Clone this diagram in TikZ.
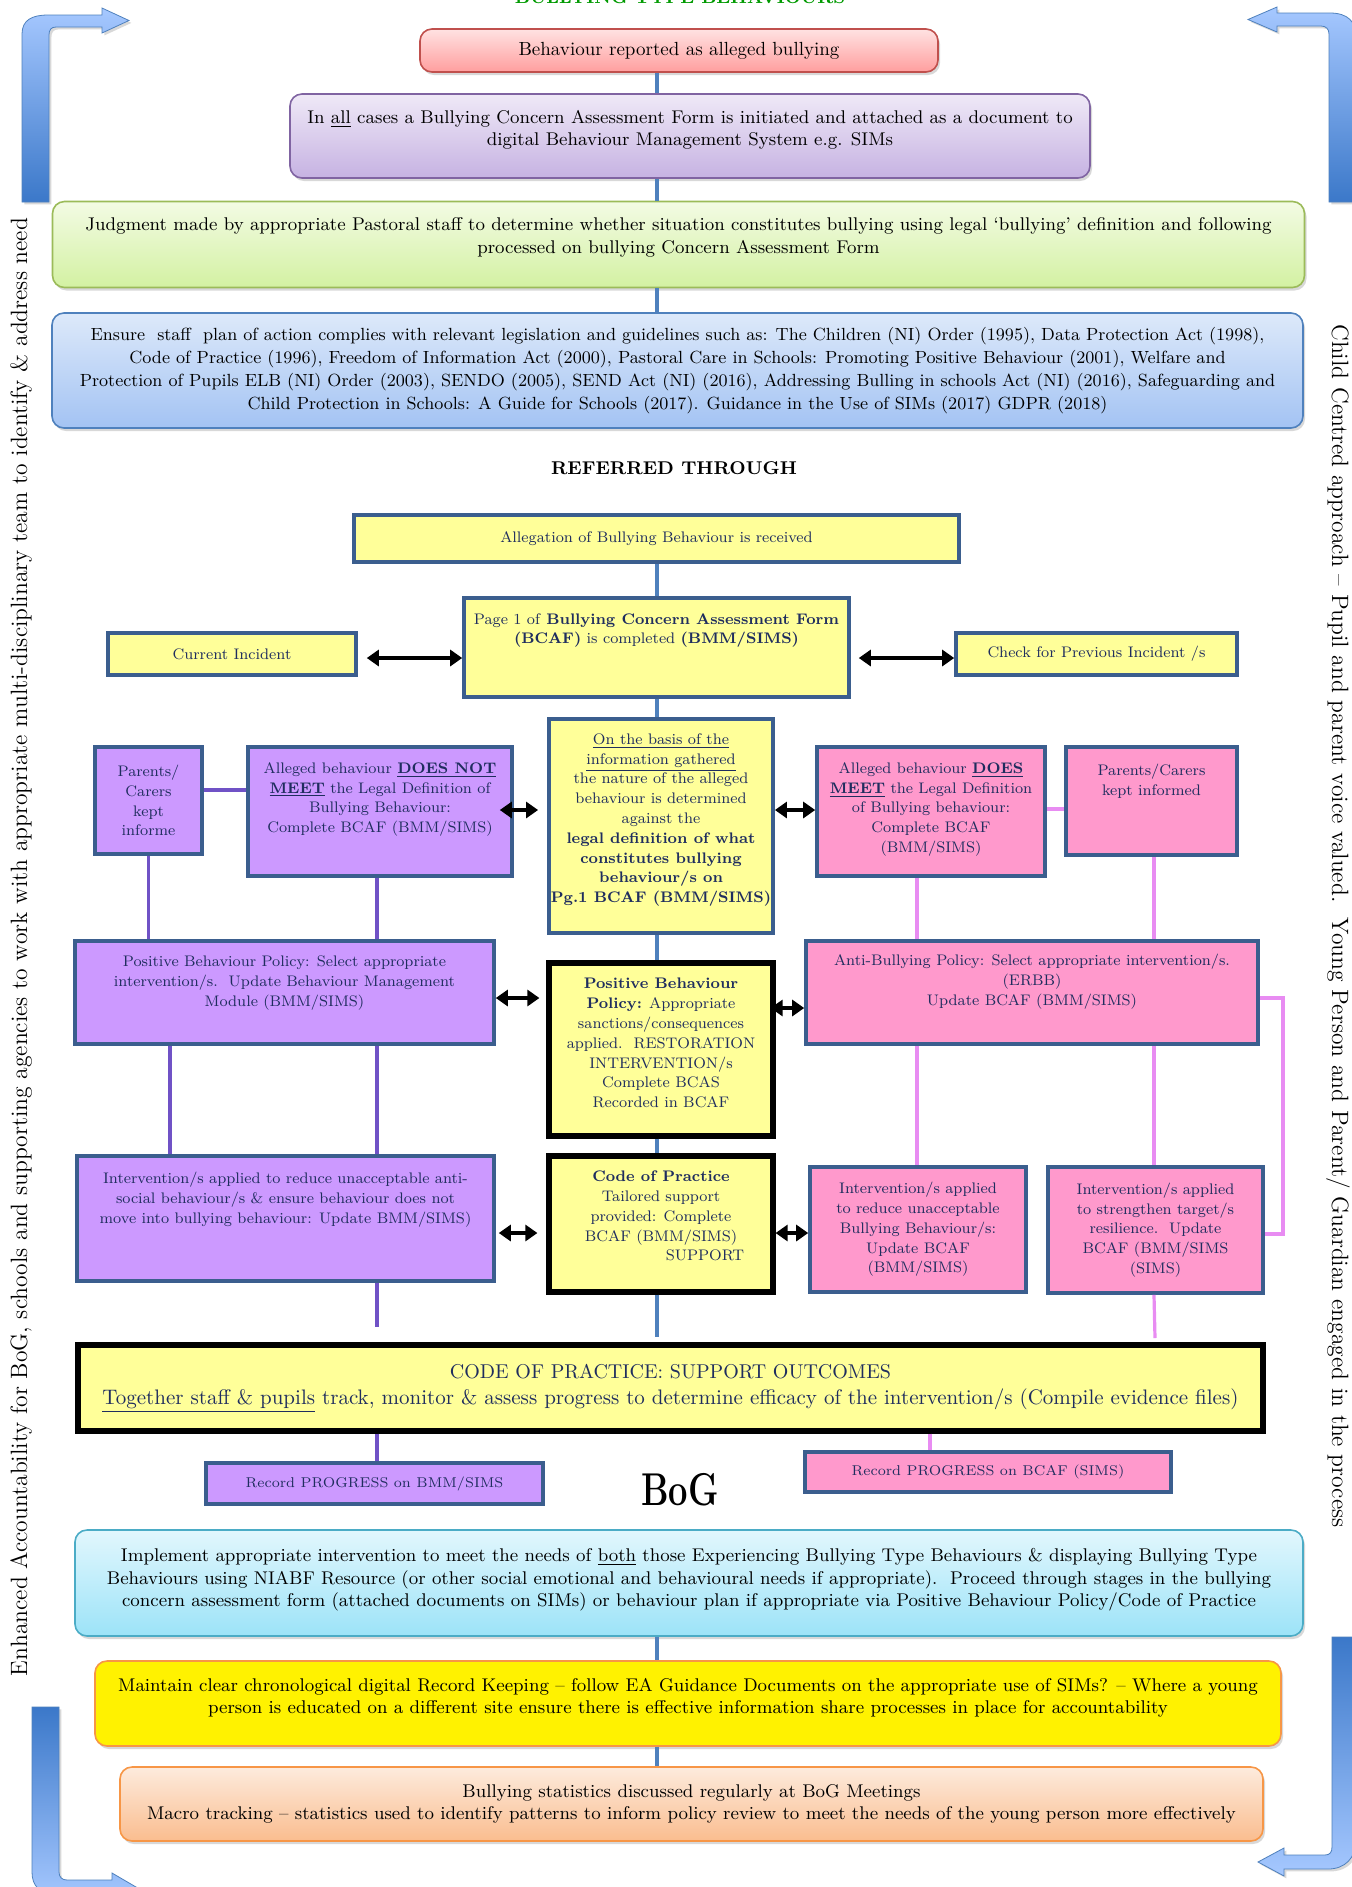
\documentclass[tikz,border=0pt]{standalone}
\usepackage{fontspec}
\usepackage{graphicx}
\usetikzlibrary{positioning,arrows.meta,shadows,calc}

\definecolor{linkblue}{HTML}{4F81BD}
\definecolor{framebl}{HTML}{3B5E8E}
\definecolor{navy}{HTML}{1F2D5E}
\definecolor{fyel}{HTML}{FFFF99}
\definecolor{fpurp}{HTML}{CC99FF}
\definecolor{fpink}{HTML}{FF99CC}
\definecolor{lpurp}{HTML}{7052C6}
\definecolor{lpink}{HTML}{E88CF2}
\definecolor{arrlight}{HTML}{A6C8FF}
\definecolor{arrdark}{HTML}{3B78C9}
\definecolor{titlegreen}{HTML}{009A00}
\definecolor{redtop}{HTML}{FFE2E2}
\definecolor{redbot}{HTML}{FF9E9E}
\definecolor{redline}{HTML}{C0504D}
\definecolor{lavtop}{HTML}{EFE9F7}
\definecolor{lavbot}{HTML}{C6B2E2}
\definecolor{lavline}{HTML}{8064A2}
\definecolor{grntop}{HTML}{F3FBE4}
\definecolor{grnbot}{HTML}{D3F1A2}
\definecolor{grnline}{HTML}{9BBB59}
\definecolor{blutop}{HTML}{DDE9FA}
\definecolor{blubot}{HTML}{A3C3F3}
\definecolor{cyantop}{HTML}{E2F7FD}
\definecolor{cyanbot}{HTML}{9CE3F8}
\definecolor{cyanline}{HTML}{4BACC6}
\definecolor{orangeline}{HTML}{F79646}
\definecolor{peachtop}{HTML}{FDEBDD}
\definecolor{peachbot}{HTML}{FABD8F}

\begin{document}
\begin{tikzpicture}[x=0.5pt,y=-0.5pt,
  sz/.style 2 args={minimum width=#1*0.5pt,minimum height=#2*0.5pt},
  topbox/.style={rounded corners=6pt,align=center,inner sep=2pt,line width=.8pt,
    font=\fontsize{9.2}{11.2}\selectfont,
    drop shadow={shadow xshift=1pt,shadow yshift=-1.5pt,opacity=.3}},
  flow/.style={draw=framebl,line width=1.8pt,align=center,text=navy,inner sep=1pt,
    font=\fontsize{7.65}{9.9}\selectfont},
  heavy/.style={flow,draw=black,line width=2.6pt},
  link/.style={draw=linkblue,line width=2pt},
  plink/.style={draw=lpurp,line width=1.6pt},
  klink/.style={draw=lpink,line width=1.6pt},
  dbl/.style={line width=2pt,{Triangle[length=6pt,width=8pt]}-{Triangle[length=6pt,width=8pt]}},
  bentarrow/.style={draw=linkblue,line width=.4pt,
    drop shadow={shadow xshift=1.2pt,shadow yshift=-1.2pt,opacity=.3}},
  side/.style={font=\fontsize{11.8}{14}\selectfont}]
\useasboundingbox (0,0) rectangle (1351,1887);
\fill[white] (0,0) rectangle (1351,1887);

\coordinate (mid) at (657,0);
\coordinate (rowA) at (0,658);
\coordinate (rowB) at (0,810);
\coordinate (rowC) at (0,998);
\coordinate (rowC2) at (0,1008);
\coordinate (rowD) at (0,1233);
\coordinate (yB0) at (0,790);
\coordinate (yB1) at (0,809);
\coordinate (yF) at (0,1234);
\coordinate (xP1) at (170,0);
\coordinate (xP2) at (377,0);
\coordinate (xK1) at (917,0);
\coordinate (xK2) at (1154,0);
\coordinate (xK3) at (930,0);
\coordinate (xR) at (1283,0);
\coordinate (endL) at (377,1327);
\coordinate (endM) at (657,1337);
\coordinate (endR) at (1155,1338);

% bent arrows in the corners
\path[bentarrow,top color=arrlight,bottom color=arrdark] (22,202) -- (22,34) .. controls (22,20) and (32,15) .. (48,15) -- (102,15) -- (102,8) -- (129,20.5) -- (102,33) -- (102,27) -- (56,27) .. controls (51,27) and (49,30) .. (49,35) -- (49,202) -- cycle;
\path[bentarrow,top color=arrlight,bottom color=arrdark] (1329,202) -- (1329,34) .. controls (1329,29) and (1326,26) .. (1321,26) -- (1277,26) -- (1277,32) -- (1248,19.5) -- (1277,7) -- (1277,13) -- (1330,13) .. controls (1348,13) and (1356,22) .. (1356,36) -- (1356,202) -- cycle;
\path[bentarrow,top color=arrdark,bottom color=arrlight] (32,1707) -- (59,1707) -- (59,1872) .. controls (59,1877) and (62,1880) .. (67,1880) -- (112,1880) -- (112,1873) -- (136,1887) -- (112,1901) -- (112,1894) -- (55,1894) .. controls (40,1894) and (32,1886) .. (32,1872) -- cycle;
\path[bentarrow,top color=arrdark,bottom color=arrlight] (1332,1637) -- (1356,1637) -- (1356,1840) .. controls (1356,1858) and (1345,1869) .. (1328,1869) -- (1284,1869) -- (1284,1876) -- (1258,1862) -- (1284,1848) -- (1284,1855) -- (1325,1855) .. controls (1330,1855) and (1332,1852) .. (1332,1847) -- cycle;

\node at(680,3)[anchor=base,text=titlegreen,font=\bfseries\fontsize{9}{9}\selectfont](title){BULLYING TYPE BEHAVIOURS};

\node at(679,50.5)[topbox,sz={518}{43},top color=redtop,bottom color=redbot,draw=redline,font=\fontsize{9.5}{11.2}\selectfont](rep){Behaviour reported as alleged bullying};
\node at(690,136)[topbox,sz={800}{84},top color=lavtop,bottom color=lavbot,draw=lavline,text depth=8pt](initf){In \underline{all} cases a Bullying Concern Assessment Form is initiated and attached as a document to\\digital Behaviour Management System e.g. SIMs};
\node at(678.5,244.5)[topbox,sz={1252}{86},top color=grntop,bottom color=grnbot,draw=grnline,text depth=9pt](judge){Judgment made by appropriate Pastoral staff to determine whether situation constitutes bullying using legal ‘bullying’ definition and following\\processed on bullying Concern Assessment Form};
\node at(677.5,370.5)[topbox,sz={1251}{115},top color=blutop,bottom color=blubot,draw=linkblue,font=\fontsize{8.8}{11.4}\selectfont](law){Ensure\ \ staff\ \ plan of action complies with relevant legislation and guidelines such as: The Children (NI) Order (1995), Data Protection Act (1998),\\Code of Practice (1996), Freedom of Information Act (2000), Pastoral Care in Schools: Promoting Positive Behaviour (2001), Welfare and\\Protection of Pupils ELB (NI) Order (2003), SENDO (2005), SEND Act (NI) (2016), Addressing Bulling in schools Act (NI) (2016), Safeguarding and\\Child Protection in Schools: A Guide for Schools (2017). Guidance in the Use of SIMs (2017) GDPR (2018)};

\node at(674,468)[font=\bfseries\fontsize{9.25}{10}\selectfont](thru){REFERRED THROUGH};

\node at(656.5,538.5)[flow,fill=fyel,sz={605}{47}](alleg){Allegation of Bullying Behaviour is received};
\node at(656.5,647.5)[flow,fill=fyel,sz={385}{99},text depth=19pt](page1){Page 1 of \textbf{Bullying Concern Assessment Form}\\\textbf{(BCAF)} is completed \textbf{(BMM/SIMS)}};
\node at(232,654)[flow,fill=fyel,sz={248}{42}](curr){Current Incident};
\node at(1096.5,654)[flow,fill=fyel,sz={281}{42}](prev){Check for Previous Incident /s};

\node at(661,826)[flow,fill=fyel,sz={224}{214},text depth=8pt](basis){\underline{On the basis of the}\\\underline{information gathered}\\the nature of the alleged\\behaviour is determined\\against the\\\textbf{legal definition of what}\\\textbf{constitutes bullying}\\\textbf{behaviour/s on}\\\textbf{Pg.1 BCAF (BMM/SIMS)}};
\node at(148.5,800.5)[flow,fill=fpurp,sz={107}{107}](parL){Parents/\\Carers\\kept\\informe};
\node at(380,811.5)[flow,fill=fpurp,sz={264}{129},text depth=14pt](dnm){Alleged behaviour \textbf{\underline{DOES NOT}}\\\textbf{\underline{MEET}} the Legal Definition of\\Bullying Behaviour:\\Complete BCAF (BMM/SIMS)};
\node at(931,811.5)[flow,fill=fpink,sz={228}{129},text depth=4pt](dm){Alleged behaviour \textbf{\underline{DOES}}\\\textbf{\underline{MEET}} the Legal Definition\\of Bullying behaviour:\\Complete BCAF\\(BMM/SIMS)};
\node at(1151.5,801)[flow,fill=fpink,sz={171}{108},text depth=21.5pt](parR){Parents/Carers\\kept informed};

\node at(284.5,992.5)[flow,fill=fpurp,sz={419}{103},text depth=11.5pt](pbp){Positive Behaviour Policy: Select appropriate\\intervention/s.\ \ Update Behaviour Management\\Module (BMM/SIMS)};
\node at(661,1049.5)[heavy,fill=fyel,sz={224}{173},text depth=6.5pt](pbc){\textbf{Positive Behaviour}\\\textbf{Policy:} Appropriate\\sanctions/consequences\\applied.\ \ RESTORATION\\INTERVENTION/s\\Complete BCAS\\Recorded in BCAF};
\node at(1032,992.5)[flow,fill=fpink,sz={452}{103},text depth=12.5pt](anti){Anti-Bullying Policy: Select appropriate intervention/s.\\(ERBB)\\Update BCAF (BMM/SIMS)};

\node at(285.5,1218.5)[flow,fill=fpurp,sz={417}{125},text depth=21pt](intL){Intervention/s applied to reduce unacceptable anti-\\social behaviour/s \& ensure behaviour does not\\move into bullying behaviour: Update BMM/SIMS)};
\node at(661,1224)[heavy,fill=fyel,sz={224}{136},text depth=8pt](cop){\textbf{Code of Practice}\\Tailored support\\provided: Complete\\BCAF (BMM/SIMS)\\\hspace*{44pt}SUPPORT};
\node at(918,1229.5)[flow,fill=fpink,sz={216}{125}](intM){Intervention/s applied\\to reduce unacceptable\\Bullying Behaviour/s:\\Update BCAF\\(BMM/SIMS)};
\node at(1155.5,1230)[flow,fill=fpink,sz={215}{126}](intR){Intervention/s applied\\to strengthen target/s\\resilience.\ \ Update\\BCAF (BMM/SIMS\\(SIMS)};

\node at(670.5,1388)[heavy,fill=fyel,sz={1185}{86},font=\fontsize{10}{13}\selectfont](outc){CODE OF PRACTICE: SUPPORT OUTCOMES\\{\fontsize{10.5}{13}\selectfont\underline{Together staff \& pupils} track, monitor \& assess progress to determine efficacy of the intervention/s (Compile evidence files)}};
\node at(374.5,1483.5)[flow,fill=fpurp,sz={337}{41},font=\fontsize{7.1}{9}\selectfont](recL){Record PROGRESS on BMM/SIMS};
\node at(988,1472)[flow,fill=fpink,sz={366}{40},font=\fontsize{7.1}{9}\selectfont](recR){Record PROGRESS on BCAF (SIMS)};
\node at(680,1490)[font=\bfseries\fontsize{23}{23}\selectfont](bog){\scalebox{0.75}[1]{BoG}};

\node at(689,1583)[topbox,sz={1228}{106},top color=cyantop,bottom color=cyanbot,draw=cyanline,text depth=5.5pt](impl){Implement appropriate intervention to meet the needs of \underline{both} those Experiencing Bullying Type Behaviours \& displaying Bullying Type\\Behaviours using NIABF Resource (or other social emotional and behavioural needs if appropriate).\ \ Proceed through stages in the bullying\\concern assessment form (attached documents on SIMs) or behaviour plan if appropriate via Positive Behaviour Policy/Code of Practice};
\node at(688,1703.5)[topbox,sz={1186}{85},fill=yellow,draw=orangeline,text depth=7.5pt](keep){Maintain clear chronological digital Record Keeping – follow EA Guidance Documents on the appropriate use of SIMs? – Where a young\\person is educated on a different site ensure there is effective information share processes in place for accountability};
\node at(691.5,1804)[topbox,sz={1143}{74},top color=peachtop,bottom color=peachbot,draw=orangeline](stats){Bullying statistics discussed regularly at BoG Meetings\\Macro tracking – statistics used to identify patterns to inform policy review to meet the needs of the young person more effectively};

\node at(21,947)[side,rotate=90](accl){Enhanced Accountability for BoG, schools and supporting agencies to work with appropriate multi-disciplinary team to identify \& address need};
\node at(1338,926)[side,rotate=-90](voice){Child Centred approach – Pupil and parent voice valued.\ \ Young Person and Parent/ Guardian engaged in the process};

% connectors
\foreach \a/\b in {rep/initf,initf/judge,judge/law,alleg/page1,page1/basis,basis/pbc,pbc/cop,impl/keep,keep/stats}
  \draw[link] (\a.south -| mid) -- (\b.north -| mid);
\draw[link] (cop.south -| mid) -- (endM);

\draw[plink] (parL.east |- yB0) -- (dnm.west |- yB0);
\draw[plink] (parL.south) -- (parL.south |- pbp.north);
\draw[plink] (dnm.south -| xP2) -- (pbp.north -| xP2);
\draw[plink] (pbp.south -| xP1) -- (intL.north -| xP1);
\draw[plink] (pbp.south -| xP2) -- (intL.north -| xP2);
\draw[plink] (intL.south -| xP2) -- (endL);
\draw[plink] (outc.south -| xP2) -- (recL.north -| xP2);

\draw[klink] (dm.east |- yB1) -- (parR.west |- yB1);
\draw[klink] (dm.south -| xK1) -- (anti.north -| xK1);
\draw[klink] (parR.south -| xK2) -- (anti.north -| xK2);
\draw[klink] (anti.south -| xK1) -- (intM.north -| xK1);
\draw[klink] (anti.south -| xK2) -- (intR.north -| xK2);
\draw[klink] (intR.south -| xK2) -- (endR);
\draw[klink] (anti.east |- rowC) -| (xR |- yF) -- (intR.east |- yF);
\draw[klink] (outc.south -| xK3) -- (recR.north -| xK3);

\draw[dbl,shorten <=4.5pt] (curr.east |- rowA) -- (page1.west |- rowA);
\draw[dbl,shorten <=4pt] (page1.east |- rowA) -- (prev.west |- rowA);
\draw[dbl,shorten <=-7pt,shorten >=4.5pt] (dnm.east |- rowB) -- (basis.west |- rowB);
\draw[dbl] (basis.east |- rowB) -- (dm.west |- rowB);
\draw[dbl,shorten >=3.5pt] (pbp.east |- rowC) -- (pbc.west |- rowC);
\draw[dbl,shorten <=-2.5pt] (pbc.east |- rowC2) -- (anti.west |- rowC2);
\draw[dbl,shorten <=1.5pt,shorten >=4.5pt] (intL.east |- rowD) -- (cop.west |- rowD);
\draw[dbl] (cop.east |- rowD) -- (intM.west |- rowD);
\end{tikzpicture}
\end{document}
